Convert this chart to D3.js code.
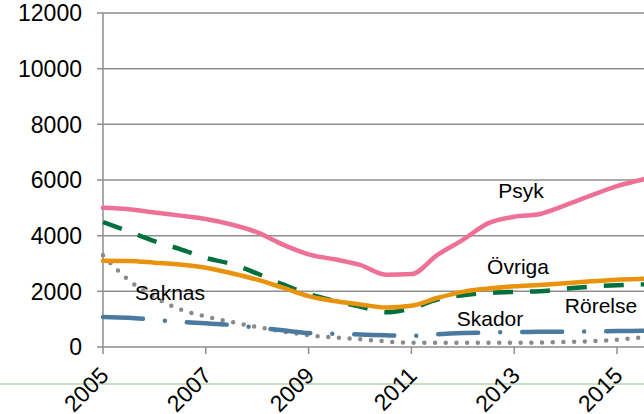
<!DOCTYPE html>
<html>
<head>
<meta charset="utf-8">
<script src="https://cdn.jsdelivr.net/npm/d3@7"></script>
<style>
  body { margin: 0; background: #fff; }
  svg { display: block; font-family: "Liberation Sans", Arial, sans-serif; }
</style>
</head>
<body>
<div class="container"></div>
<script>
// half-year steps
var years = [2005, 2005.5, 2006, 2006.5, 2007, 2007.5, 2008, 2008.5, 2009, 2009.5, 2010, 2010.5,
             2011, 2011.5, 2012, 2012.5, 2013, 2013.5, 2014, 2014.5, 2015, 2015.5, 2016];
var psyk    = [5000, 4950, 4830, 4720, 4600, 4400, 4120, 3680, 3330, 3150, 2950, 2600,
               2620, 3300, 3850, 4450, 4680, 4780, 5100, 5450, 5780, 6020, 6200];
var ovriga  = [3100, 3090, 3030, 2960, 2850, 2650, 2420, 2130, 1830, 1650, 1530, 1420,
               1480, 1760, 1980, 2100, 2180, 2230, 2290, 2360, 2420, 2450, 2470];
var rorelse = [4490, 4150, 3800, 3520, 3200, 2980, 2640, 2250, 1900, 1660, 1450, 1250,
               1390, 1700, 1860, 1940, 1980, 2000, 2100, 2170, 2220, 2250, 2270];
var skador  = [1080, 1050, 980, 900, 850, 790, 690, 600, 500, 470, 450, 420,
               400, 460, 500, 520, 540, 545, 550, 560, 575, 580, 585];
var saknas  = [3300, 2400, 1800, 1350, 1100, 900, 720, 560, 420, 340, 280, 200,
               150, 150, 150, 150, 150, 160, 180, 210, 260, 350, 420];
var yTicks = [0, 2000, 4000, 6000, 8000, 10000, 12000];
var xTicks = [2005, 2007, 2009, 2011, 2013, 2015];

var series = [
  {name: "Saknas",  values: saknas,  color: "#8a8a8a", width: 4.5, dash: "0,10.7", cap: "round", lx: 170, ly: 300},
  {name: "Skador",  values: skador,  color: "#4a7aa0", width: 4.5, dash: "40,22,0,22", cap: "round", lx: 490, ly: 326},
  {name: "Rörelse", values: rorelse, color: "#00703c", width: 4.5, dash: "20,17", cap: "butt", lx: 601, ly: 313},
  {name: "Övriga",  values: ovriga,  color: "#e8930b", width: 4.5, dash: null, cap: "round", lx: 518, ly: 274},
  {name: "Psyk",    values: psyk,    color: "#ee7096", width: 4.5, dash: null, cap: "round", lx: 521, ly: 198}
];

var svg = d3.select('.container').append('svg').attr("width", 644).attr("height", 414);

var x = d3.scaleLinear().domain([2005, 2015]).range([103, 617]);
var y = d3.scaleLinear().domain([0, 12000]).range([347, 13]);

// light green rule below the axis
svg.append("line")
  .attr("x1", 0).attr("x2", 644)
  .attr("y1", 384).attr("y2", 384)
  .attr("stroke", "#c8e0bb").attr("stroke-width", 2);

// gridlines
svg.selectAll(".grid").data(yTicks).enter().append("line")
  .attr("x1", 97).attr("x2", 644)
  .attr("y1", function(d){ return y(d); })
  .attr("y2", function(d){ return y(d); })
  .attr("stroke", "#8e8e8e").attr("stroke-width", 1.5);

// y axis line
svg.append("line")
  .attr("x1", x(2005)).attr("x2", x(2005))
  .attr("y1", y(12000)).attr("y2", y(0))
  .attr("stroke", "#8e8e8e").attr("stroke-width", 1.5);

// x ticks
svg.selectAll(".xt").data(xTicks).enter().append("line")
  .attr("x1", function(d){ return x(d); })
  .attr("x2", function(d){ return x(d); })
  .attr("y1", y(0)).attr("y2", y(0) + 7)
  .attr("stroke", "#8e8e8e").attr("stroke-width", 1.5);

// y labels
svg.selectAll(".yl").data(yTicks).enter().append("text")
  .attr("x", 82)
  .attr("y", function(d){ return y(d); })
  .attr("dy", "0.36em")
  .attr("text-anchor", "end")
  .attr("font-size", 23)
  .attr("fill", "#000")
  .text(function(d){ return d; });

// x labels
svg.selectAll(".xl").data(xTicks).enter().append("text")
  .attr("text-anchor", "end")
  .attr("font-size", 23)
  .attr("fill", "#000")
  .attr("transform", function(d){ return "translate(" + (x(d) + 7) + ",377) rotate(-45)"; })
  .text(function(d){ return d; });

var line = d3.line()
  .x(function(d, i){ return x(years[i]); })
  .y(function(d){ return y(d); })
  .curve(d3.curveMonotoneX);

series.forEach(function(s){
  svg.append("path")
    .attr("d", line(s.values))
    .attr("fill", "none")
    .attr("stroke", s.color)
    .attr("stroke-width", s.width)
    .attr("stroke-linecap", s.cap)
    .attr("stroke-linejoin", "round")
    .attr("stroke-dasharray", s.dash);
});

svg.selectAll(".lab").data(series).enter().append("text")
  .attr("x", function(d){ return d.lx; })
  .attr("y", function(d){ return d.ly; })
  .attr("text-anchor", "middle")
  .attr("font-size", 21)
  .attr("fill", "#000")
  .text(function(d){ return d.name; });
</script>
</body>
</html>
